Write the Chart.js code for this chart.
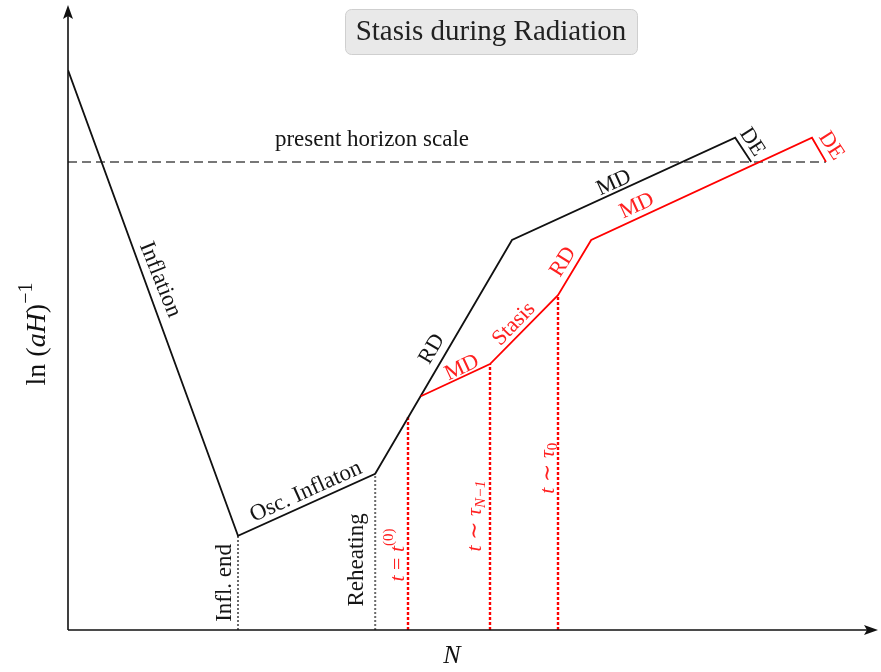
<!DOCTYPE html>
<html>
<head>
<meta charset="utf-8">
<script src="https://cdn.jsdelivr.net/npm/chart.js@4/dist/chart.umd.min.js"></script>
<style>
  html, body { margin: 0; padding: 0; background: #fff; }
  #wrap { width: 881px; height: 672px; }
</style>
</head>
<body>
<div id="wrap"><canvas id="stasis-chart" width="881" height="672"></canvas></div>
<script>
// N (e-folds) and ln(aH)^-1, arbitrary schematic units
const standardN = [0, 21.25, 38.4, 55.5, 83.4, 85.4];
const standardLnH = [90.3, 15.2, 25.2, 62.9, 79.4, 75.5];

const stasisN = [44.1, 52.75, 61.25, 65.4, 93.0, 94.75];
const stasisLnH = [37.7, 42.9, 54.0, 62.9, 79.4, 75.5];

const horizonN = [0, 94.75];
const horizonLnH = [75.5, 75.5];

// vertical markers: [N, top of the line]
const greyMarkers = [[21.25, 15.2], [38.4, 25.2]];
const redMarkers = [[42.5, 34.6], [52.75, 42.9], [61.25, 54.0]];

const toPoints = (xs, ys) => xs.map((x, i) => ({ x: x, y: ys[i] }));

const serif = '"Liberation Serif", "DejaVu Serif", serif';
const black = '#151515';
const red = '#ff2020';

// labels: segments of [text, style] where style is '', 'i', 'sub', 'subi', 'sup'
const labels = [
    { x: 38, y: 79.0, rot: 0, color: black, size: 23, parts: [['present horizon scale', '']] },
    { x: 11.5, y: 56.5, rot: 68, color: black, size: 23, parts: [['Inflation', '']] },
    { x: 29.75, y: 22.3, rot: -24.4, color: black, size: 23, parts: [['Osc. Inflaton', '']] },
    { x: 19.6, y: 7.6, rot: -90, color: black, size: 23, parts: [['Infl. end', '']] },
    { x: 36.1, y: 11.3, rot: -90, color: black, size: 23, parts: [['Reheating', '']] },
    { x: 41.25, y: 12.1, rot: -90, color: red, size: 22, parts: [['t', 'i'], [' = ', ''], ['t', 'i'], ['(0)', 'sup']] },
    { x: 50.9, y: 18.4, rot: -90, color: red, size: 22, parts: [['t', 'i'], [' ∼ ', ''], ['τ', 'i'], ['N−1', 'subi']] },
    { x: 60.0, y: 26.1, rot: -90, color: red, size: 22, parts: [['t', 'i'], [' ∼ ', ''], ['τ', 'i'], ['0', 'sub']] },
    { x: 45.5, y: 45.3, rot: -59.5, color: black, size: 22, parts: [['RD', '']] },
    { x: 49.25, y: 42.3, rot: -25, color: red, size: 22, parts: [['MD', '']] },
    { x: 55.75, y: 49.35, rot: -46, color: red, size: 22, parts: [['Stasis', '']] },
    { x: 61.9, y: 59.35, rot: -58, color: red, size: 22, parts: [['RD', '']] },
    { x: 68.25, y: 72.1, rot: -24.6, color: black, size: 22, parts: [['MD', '']] },
    { x: 71.1, y: 68.4, rot: -24.8, color: red, size: 22, parts: [['MD', '']] },
    { x: 85.5, y: 78.7, rot: 57, color: black, size: 22, parts: [['DE', '']] },
    { x: 95.4, y: 78.1, rot: 57, color: red, size: 22, parts: [['DE', '']] }
];

function partFont(style, size) {
    const small = style === 'sub' || style === 'sup' || style === 'subi';
    const italic = style === 'i' || style === 'subi';
    return (italic ? 'italic ' : '') + Math.round(small ? size * 0.7 : size) + 'px ' + serif;
}

function drawRich(ctx, parts, size) {
    let total = 0;
    parts.forEach(p => { ctx.font = partFont(p[1], size); total += ctx.measureText(p[0]).width; });
    let cx = -total / 2;
    parts.forEach(p => {
        ctx.font = partFont(p[1], size);
        let dy = 0;
        if (p[1] === 'sup') dy = -size * 0.4;
        if (p[1] === 'sub' || p[1] === 'subi') dy = size * 0.25;
        ctx.fillText(p[0], cx, dy);
        cx += ctx.measureText(p[0]).width;
    });
}

function roundRect(ctx, x, y, w, h, r) {
    ctx.beginPath();
    ctx.moveTo(x + r, y);
    ctx.arcTo(x + w, y, x + w, y + h, r);
    ctx.arcTo(x + w, y + h, x, y + h, r);
    ctx.arcTo(x, y + h, x, y, r);
    ctx.arcTo(x, y, x + w, y, r);
    ctx.closePath();
}

const diagramPlugin = {
    id: 'diagram',
    afterDatasetsDraw(chart) {
        const ctx = chart.ctx;
        const area = chart.chartArea;
        const xs = chart.scales.x, ys = chart.scales.y;
        ctx.save();

        // axes with arrow heads
        ctx.strokeStyle = '#111';
        ctx.fillStyle = '#111';
        ctx.lineWidth = 1.6;
        ctx.beginPath();
        ctx.moveTo(area.left, area.bottom);
        ctx.lineTo(area.left, 8);
        ctx.moveTo(area.left, area.bottom);
        ctx.lineTo(874, area.bottom);
        ctx.stroke();
        ctx.beginPath();
        ctx.moveTo(area.left, 5);
        ctx.lineTo(area.left - 5, 19);
        ctx.lineTo(area.left, 16);
        ctx.lineTo(area.left + 5, 19);
        ctx.closePath();
        ctx.fill();
        ctx.beginPath();
        ctx.moveTo(878, area.bottom);
        ctx.lineTo(864, area.bottom - 5);
        ctx.lineTo(867, area.bottom);
        ctx.lineTo(864, area.bottom + 5);
        ctx.closePath();
        ctx.fill();

        // annotations
        ctx.textAlign = 'left';
        ctx.textBaseline = 'middle';
        labels.forEach(l => {
            ctx.save();
            ctx.translate(xs.getPixelForValue(l.x), ys.getPixelForValue(l.y));
            ctx.rotate(l.rot * Math.PI / 180);
            ctx.fillStyle = l.color;
            drawRich(ctx, l.parts, l.size);
            ctx.restore();
        });

        // axis titles
        ctx.fillStyle = '#111';
        ctx.save();
        ctx.translate(38, 334);
        ctx.rotate(-Math.PI / 2);
        drawRich(ctx, [['ln (', ''], ['aH', 'i'], [')', ''], ['−1', 'sup']], 28);
        ctx.restore();
        ctx.save();
        ctx.translate(452, 656);
        drawRich(ctx, [['N', 'i']], 26);
        ctx.restore();

        // title box
        roundRect(ctx, 345.5, 9.5, 292, 45, 6);
        ctx.fillStyle = '#e9e9e9';
        ctx.fill();
        ctx.strokeStyle = '#cfcfcf';
        ctx.lineWidth = 1;
        ctx.stroke();
        ctx.fillStyle = '#222';
        ctx.save();
        ctx.translate(491, 32);
        drawRich(ctx, [['Stasis during Radiation', '']], 29);
        ctx.restore();

        ctx.restore();
    }
};

const markerDataset = (m, color, width, dash) => ({
    data: [{ x: m[0], y: 0 }, { x: m[0], y: m[1] }],
    borderColor: color,
    borderWidth: width,
    borderDash: dash,
    pointRadius: 0,
    showLine: true,
    order: 3
});

const datasets = [
    {
        label: 'standard',
        data: toPoints(standardN, standardLnH),
        borderColor: '#111',
        borderWidth: 1.8,
        pointRadius: 0,
        showLine: true,
        order: 1
    },
    {
        label: 'stasis',
        data: toPoints(stasisN, stasisLnH),
        borderColor: '#ff0000',
        borderWidth: 1.8,
        pointRadius: 0,
        showLine: true,
        order: 0
    },
    {
        label: 'horizon',
        data: toPoints(horizonN, horizonLnH),
        borderColor: '#777',
        borderWidth: 2,
        borderDash: [9, 5],
        pointRadius: 0,
        showLine: true,
        order: 2
    }
].concat(greyMarkers.map(m => markerDataset(m, '#6a6a6a', 2, [2, 2])))
 .concat(redMarkers.map(m => markerDataset(m, '#ff0000', 2.4, [3, 2])));

const context = document.getElementById('stasis-chart').getContext('2d');

const chartStasis = new Chart(context, {
    type: 'scatter',
    data: { datasets: datasets },
    options: {
        responsive: false,
        animation: false,
        layout: { padding: { left: 68, right: 13, top: 10, bottom: 42 } },
        scales: {
            x: { type: 'linear', min: 0, max: 100, display: false },
            y: { type: 'linear', min: 0, max: 100, display: false }
        },
        plugins: {
            legend: { display: false },
            tooltip: { enabled: false }
        }
    },
    plugins: [diagramPlugin]
});
</script>
</body>
</html>
